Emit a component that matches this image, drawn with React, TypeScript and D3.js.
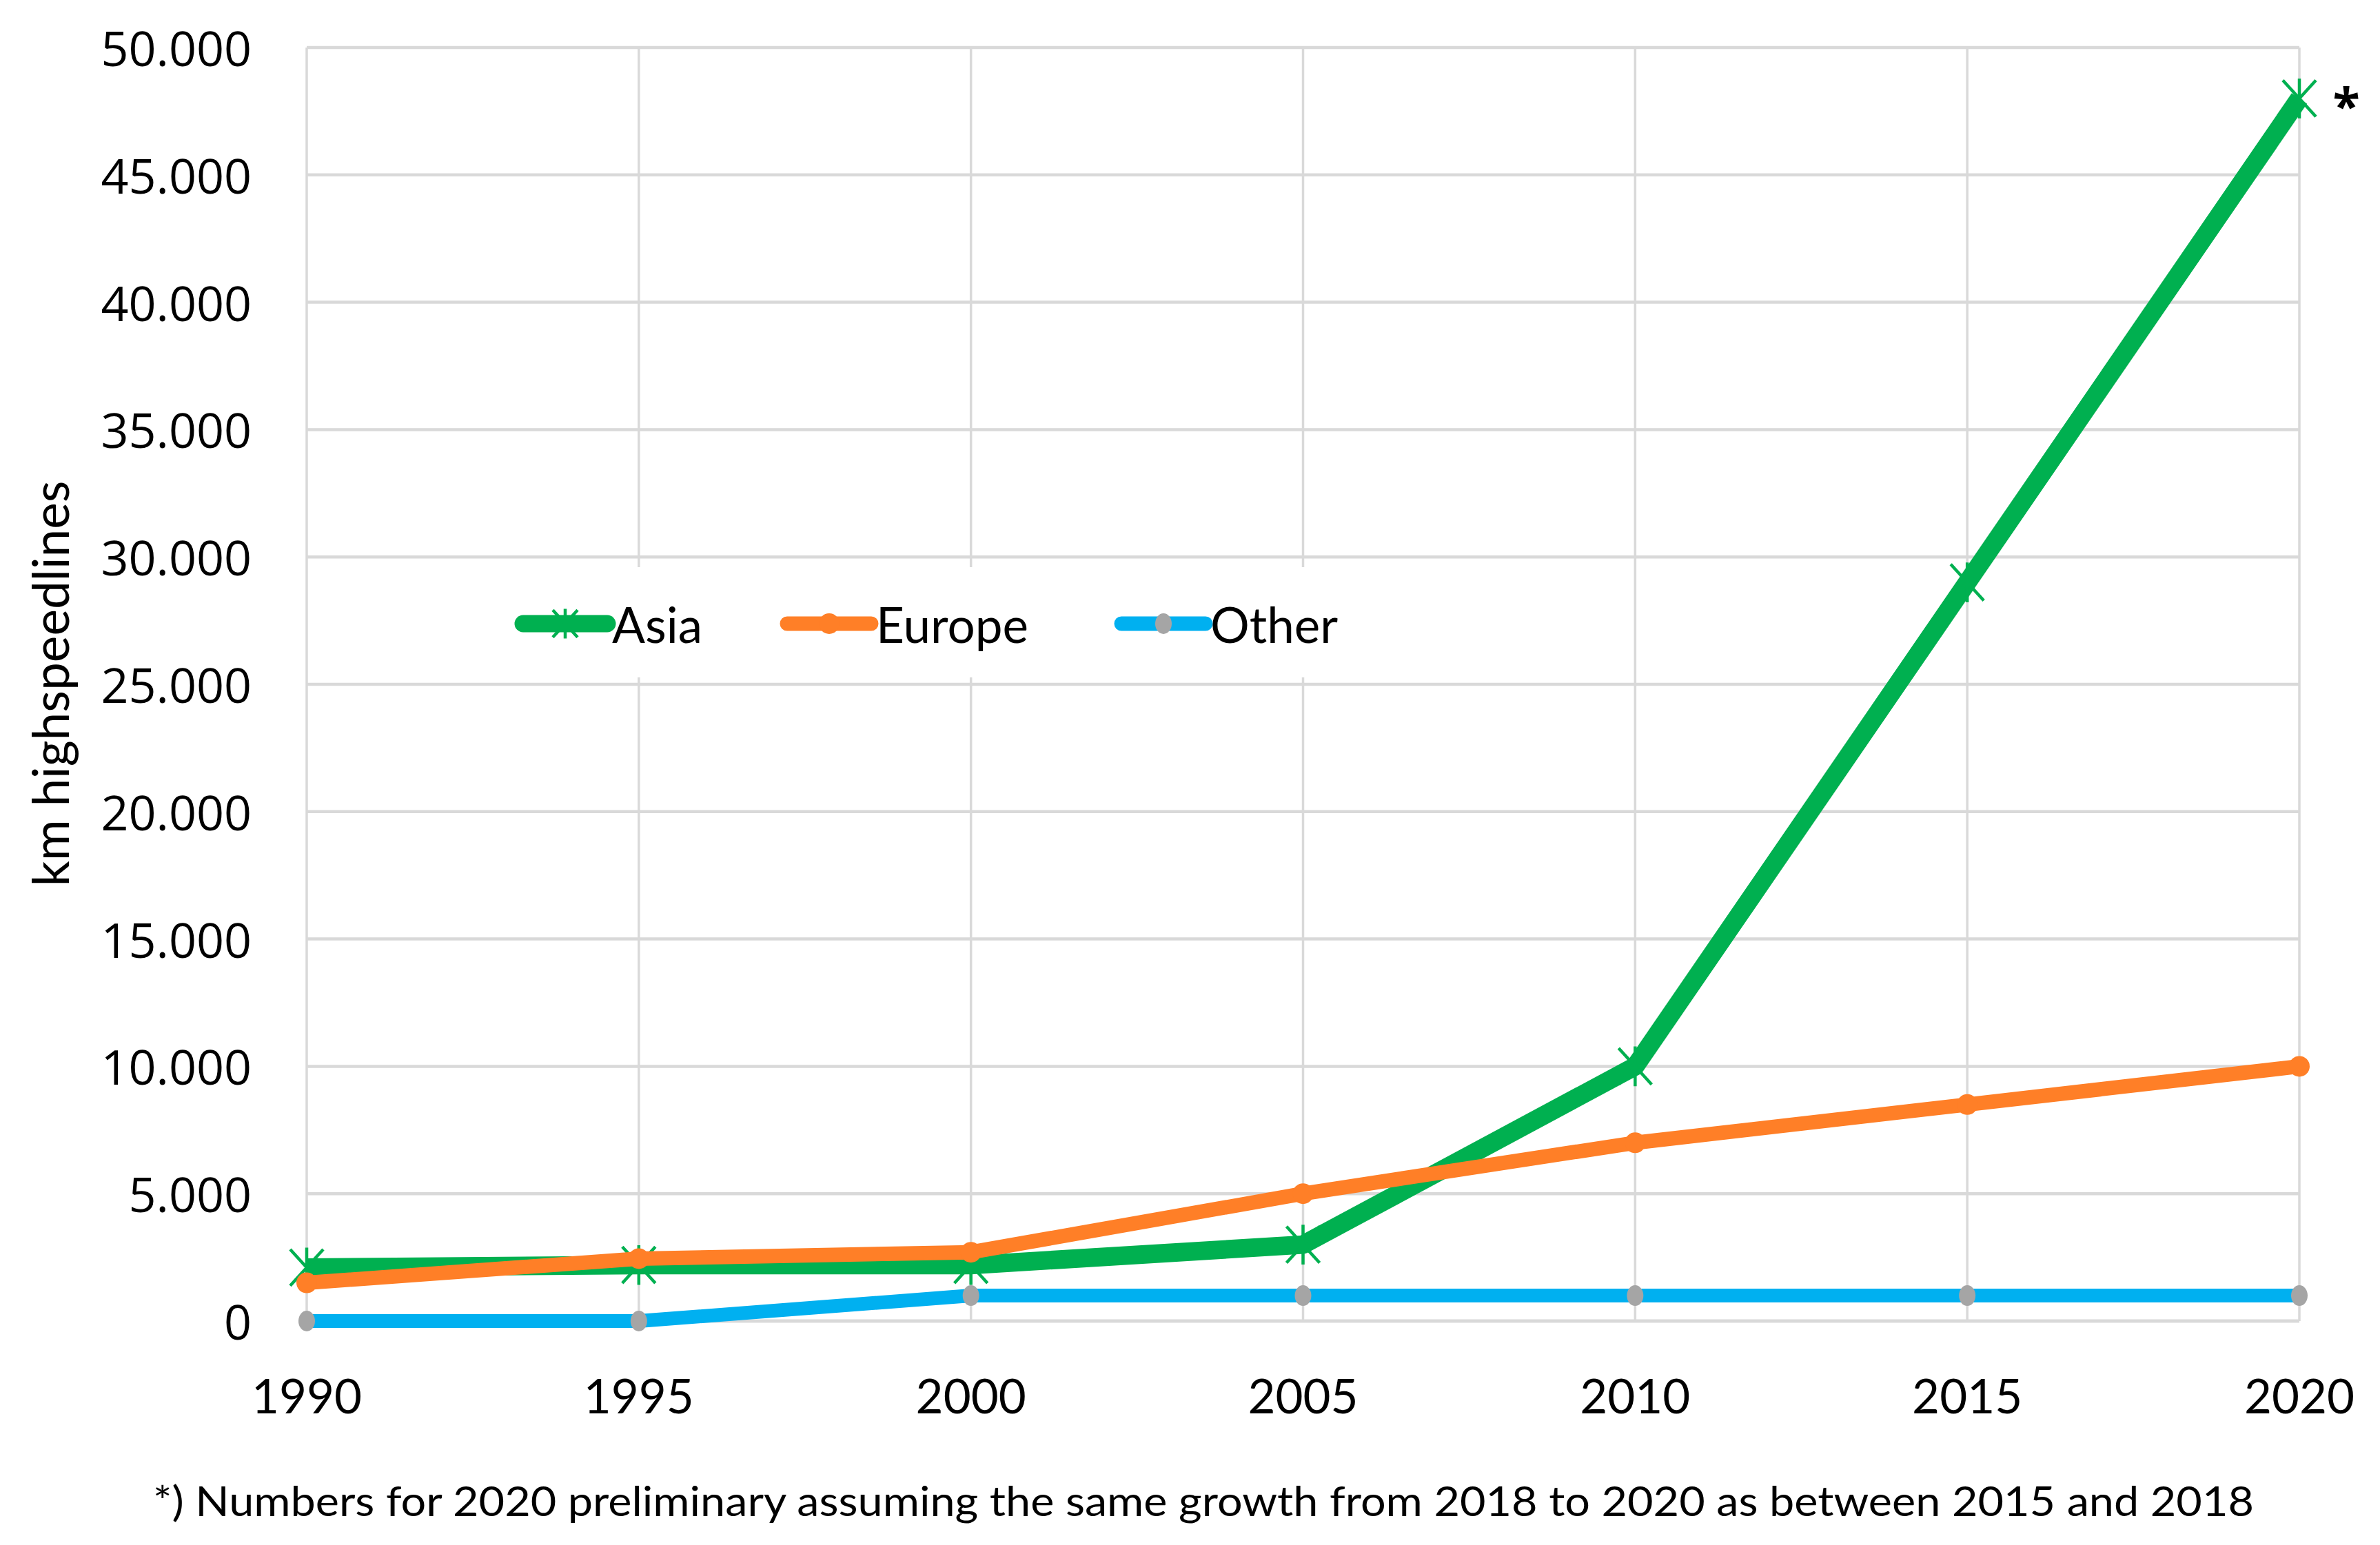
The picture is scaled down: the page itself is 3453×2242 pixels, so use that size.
import { useEffect } from 'react'
import * as d3 from 'd3'

const years = [1990, 1995, 2000, 2005, 2010, 2015, 2020]
const asia = [2100, 2200, 2200, 3000, 10000, 29000, 48000]
const europe = [1500, 2450, 2700, 5000, 7000, 8500, 10000]
const other = [0, 0, 1000, 1000, 1000, 1000, 1000]
const yTicks = [0, 5000, 10000, 15000, 20000, 25000, 30000, 35000, 40000, 45000, 50000]
const seriesNames = ['Asia', 'Europe', 'Other']

const W = 3453
const H = 2242
const margin = { top: 69, right: 117, bottom: 325, left: 445 }

const colors = { Asia: '#00b050', Europe: '#ff7f27', Other: '#00b0f0' }

function fmt(v: number) {
  if (v === 0) return '0'
  const s = String(v)
  return s.slice(0, s.length - 3) + '.' + s.slice(-3)
}

function Star({ x, y, r, color }: { x: number; y: number; r: number; color: string }) {
  const d = `M${x - r},${y - r * 1.1}L${x + r},${y + r * 1.1}M${x + r},${y - r * 1.1}L${x - r},${y + r * 1.1}M${x},${y - r * 1.2}L${x},${y + r * 1.2}`
  return <path d={d} stroke={color} strokeWidth={4.5} fill="none" />
}

export default function App() {
  useEffect(() => {
    document.body.style.margin = '0'
  }, [])

  const x = d3.scaleLinear().domain([1990, 2020]).range([margin.left, W - margin.right])
  const y = d3.scaleLinear().domain([0, 50000]).range([H - margin.bottom, margin.top])

  const line = d3
    .line<number>()
    .x((_, i) => x(years[i]))
    .y((d) => y(d))

  const legendY = 905
  const legendItems = [
    { name: seriesNames[0], x0: 759 },
    { name: seriesNames[1], x0: 1142 },
    { name: seriesNames[2], x0: 1627 },
  ]

  return (
    <svg width={W} height={H} viewBox={`0 0 ${W} ${H}`} style={{ display: 'block', background: '#fff' }}>
      <rect width={W} height={H} fill="#fff" />
      {/* grid */}
      {yTicks.map((t) => (
        <line key={'h' + t} x1={x(1990)} x2={x(2020)} y1={y(t)} y2={y(t)} stroke="#d9d9d9" strokeWidth={t === 0 ? 5 : 4.5} />
      ))}
      {years.map((yr) => (
        <line key={'v' + yr} x1={x(yr)} x2={x(yr)} y1={y(50000)} y2={y(0)} stroke="#d9d9d9" strokeWidth={3.5} />
      ))}
      {/* legend box (covers gridlines) */}
      <rect x={730} y={823} width={1260} height={160} fill="#fff" />
      {/* y tick labels */}
      {yTicks.map((t) => (
        <text
          key={'yl' + t}
          x={365}
          y={y(t)}
          textAnchor="end"
          dominantBaseline="central"
          fontFamily="Open Sans"
          fontSize={70}
          fill="#000"
        >
          {fmt(t)}
        </text>
      ))}
      {/* x tick labels */}
      {years.map((yr) => (
        <text key={'xl' + yr} x={x(yr)} y={2051} textAnchor="middle" fontFamily="Lato" fontSize={69} fill="#000">
          {yr}
        </text>
      ))}
      {/* y axis title */}
      <text
        transform={`translate(100,${992}) rotate(-90)`}
        textAnchor="middle"
        fontFamily="Lato"
        fontSize={73}
        fill="#000"
      >
        km highspeedlines
      </text>
      {/* series */}
      <path d={line(asia) ?? ''} fill="none" stroke={colors.Asia} strokeWidth={27} strokeLinejoin="round" />
      {asia.map((v, i) => (
        <Star key={'as' + i} x={x(years[i])} y={y(v)} r={24} color={colors.Asia} />
      ))}
      <path d={line(europe) ?? ''} fill="none" stroke={colors.Europe} strokeWidth={21} strokeLinejoin="round" />
      {europe.map((v, i) => (
        <circle key={'eu' + i} cx={x(years[i])} cy={y(v)} r={15} fill={colors.Europe} />
      ))}
      <path d={line(other) ?? ''} fill="none" stroke={colors.Other} strokeWidth={20} strokeLinejoin="round" />
      {other.map((v, i) => (
        <ellipse key={'ot' + i} cx={x(years[i])} cy={y(v)} rx={12} ry={15} fill="#a5a5a5" />
      ))}
      {/* asterisk */}
      <text x={3404} y={180} textAnchor="middle" fontFamily="Open Sans" fontWeight={700} fontSize={72} fill="#000">
        *
      </text>
      {/* legend */}
      {legendItems.map((it) => {
        const c = colors[it.name as keyof typeof colors]
        return (
          <g key={it.name}>
            <line x1={it.x0} x2={it.x0 + 122} y1={legendY} y2={legendY} stroke={c} strokeWidth={it.name === 'Asia' ? 25 : 21} strokeLinecap="round" />
            {it.name === 'Asia' && <Star x={it.x0 + 61} y={legendY} r={18} color={c} />}
            {it.name === 'Europe' && <circle cx={it.x0 + 61} cy={legendY} r={15} fill={c} />}
            {it.name === 'Other' && <ellipse cx={it.x0 + 61} cy={legendY} rx={12} ry={15} fill="#a5a5a5" />}
            <text x={it.x0 + 129} y={legendY} dominantBaseline="central" fontFamily="Lato" fontSize={71} fill="#000">
              {it.name}
            </text>
          </g>
        )
      })}
      {/* footnote */}
      <text x={222} y={2200} fontFamily="Lato" fontSize={60} textLength={3048} lengthAdjust="spacingAndGlyphs" fill="#000">
        *) Numbers for 2020 preliminary assuming the same growth from 2018 to 2020 as between 2015 and 2018
      </text>
    </svg>
  )
}
